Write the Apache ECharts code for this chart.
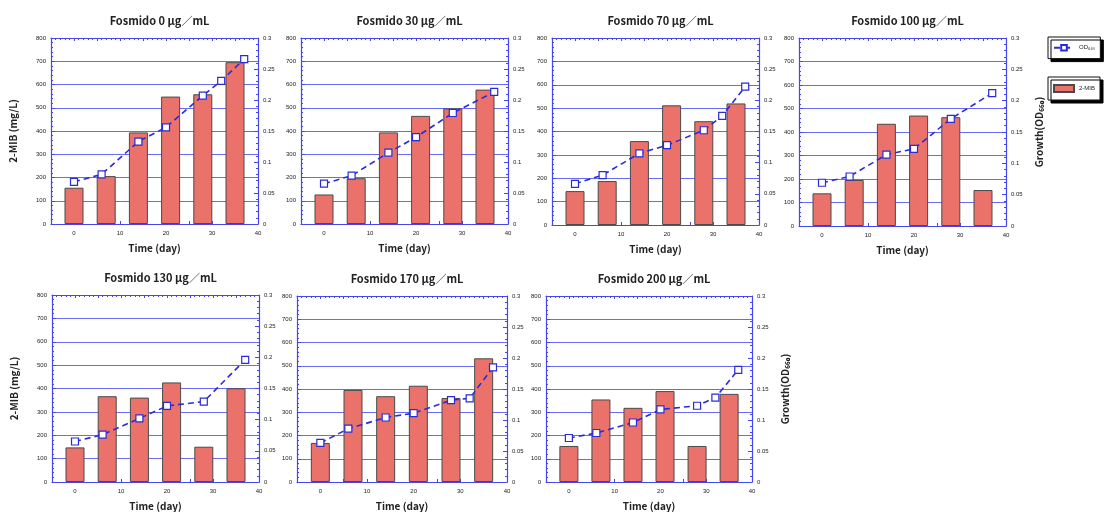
<!DOCTYPE html>
<html>
<head>
<meta charset="utf-8">
<script src="https://cdn.jsdelivr.net/npm/echarts@6/dist/echarts.min.js"></script>
<style>
  html, body { margin: 0; padding: 0; background: #fff; }
  #chart { width: 1110px; height: 512px; }
</style>
</head>
<body>
<div id="chart"></div>
<script>
// Panel titles (fosmidomycin concentration)
const titles = [
  'Fosmido 0 μg／mL', 'Fosmido 30 μg／mL', 'Fosmido 70 μg／mL', 'Fosmido 100 μg／mL',
  'Fosmido 130 μg／mL', 'Fosmido 170 μg／mL', 'Fosmido 200 μg／mL'
];

// Sampling days of the 2-MIB measurements
const barDays = [0, 7, 14, 21, 28, 35];

// 2-MIB (mg/L) per concentration
const mib0   = [156, 206, 394, 548, 558, 696];
const mib30  = [127, 197, 394, 465, 497, 578];
const mib70  = [145, 188, 359, 512, 444, 520];
const mib100 = [139, 196, 435, 470, 463, 153];
const mib130 = [148, 367, 361, 426, 151, 401];
const mib170 = [168, 396, 369, 414, 361, 532];
const mib200 = [155, 355, 319, 391, 155, 379];

// Growth (OD660) sampling days and values per concentration
const odDays0   = [0, 6, 14, 20, 28, 32, 37];
const od0       = [0.068, 0.080, 0.133, 0.156, 0.207, 0.231, 0.266];
const odDays30  = [0, 6, 14, 20, 28, 37];
const od30      = [0.065, 0.078, 0.115, 0.140, 0.179, 0.213];
const odDays70  = [0, 6, 14, 20, 28, 32, 37];
const od70      = [0.066, 0.080, 0.115, 0.128, 0.152, 0.175, 0.222];
const odDays100 = [0, 6, 14, 20, 28, 37];
const od100     = [0.069, 0.079, 0.114, 0.123, 0.171, 0.212];
const odDays130 = [0, 6, 14, 20, 28, 37];
const od130     = [0.065, 0.076, 0.102, 0.122, 0.129, 0.196];
const odDays170 = [0, 6, 14, 20, 28, 32, 37];
const od170     = [0.063, 0.086, 0.104, 0.111, 0.132, 0.135, 0.185];
const odDays200 = [0, 6, 14, 20, 28, 32, 37];
const od200     = [0.071, 0.079, 0.096, 0.117, 0.123, 0.136, 0.181];

// Axis tick labels
const xTickLabels = [0, 10, 20, 30, 40];

const panels = [
  { mib: mib0,   days: odDays0,   od: od0 },
  { mib: mib30,  days: odDays30,  od: od30 },
  { mib: mib70,  days: odDays70,  od: od70 },
  { mib: mib100, days: odDays100, od: od100 },
  { mib: mib130, days: odDays130, od: od130 },
  { mib: mib170, days: odDays170, od: od170 },
  { mib: mib200, days: odDays200, od: od200 }
];

// Plot rectangles of the seven panels
const layout = [
  { left: 51,  top: 38,  width: 207, height: 186 },
  { left: 301, top: 38,  width: 207, height: 186 },
  { left: 552, top: 38,  width: 207, height: 187 },
  { left: 799, top: 38,  width: 207, height: 188 },
  { left: 52,  top: 295, width: 207, height: 187 },
  { left: 297, top: 296, width: 210, height: 187 },
  { left: 546, top: 296, width: 206, height: 187 }
];

const FRAME = '#4646ee';
const GRIDLINE = '#6a6af4';
const LINE = '#2b2bd6';
const BAR = '#ea726b';
const NUM_FONT = 'Liberation Sans';
const TXT_FONT = '"Noto Sans CJK JP", "Noto Sans", sans-serif';

const grids = [], xAxes = [], yAxes = [], series = [], titleOpts = [];

panels.forEach((p, i) => {
  const g = layout[i];
  grids.push({ left: g.left, top: g.top, width: g.width, height: g.height, containLabel: false });

  titleOpts.push({
    text: titles[i],
    left: g.left + g.width / 2,
    top: g.top - 28,
    textAlign: 'center',
    textStyle: { fontFamily: TXT_FONT, fontSize: 11, fontWeight: 'bold', color: '#222' }
  });

  // bottom axis with day labels
  xAxes.push({
    type: 'value', gridIndex: i, position: 'bottom', min: -5, max: 40, interval: 5,
    name: 'Time (day)', nameLocation: 'middle', nameGap: 19,
    nameTextStyle: { fontFamily: TXT_FONT, fontSize: 10, fontWeight: 'bold', color: '#222' },
    axisLine: { show: true, onZero: false, lineStyle: { color: FRAME, width: 1.2 } },
    axisTick: { show: true, inside: true, length: 3, lineStyle: { color: FRAME } },
    axisLabel: {
      fontFamily: NUM_FONT, fontSize: 6, color: '#222', margin: 6,
      formatter: v => (xTickLabels.indexOf(v) >= 0 ? String(v) : '')
    },
    splitLine: { show: false }
  });
  // top frame edge
  xAxes.push({
    type: 'value', gridIndex: i, position: 'top', min: -5, max: 40, interval: 5,
    axisLine: { show: true, onZero: false, lineStyle: { color: FRAME, width: 1.2 } },
    axisTick: { show: true, inside: true, length: 3, lineStyle: { color: FRAME } },
    minorTick: { show: true, splitNumber: 5, length: 2, lineStyle: { color: FRAME } },
    axisLabel: { show: false },
    splitLine: { show: false }
  });

  const showLeftName = (i === 0 || i === 4);
  const showRightName = (i === 3 || i === 6);

  yAxes.push({
    type: 'value', gridIndex: i, position: 'left', min: 0, max: 800, interval: 100,
    name: showLeftName ? '2-MIB (mg/L)' : '', nameLocation: 'middle', nameGap: 33, nameRotate: 90,
    nameTextStyle: { fontFamily: TXT_FONT, fontSize: 10, fontWeight: 'bold', color: '#222' },
    axisLine: { show: true, onZero: false, lineStyle: { color: FRAME, width: 1.2 } },
    axisTick: { show: true, inside: true, length: 4, lineStyle: { color: FRAME } },
    minorTick: { show: true, splitNumber: 5, length: 2, lineStyle: { color: FRAME } },
    axisLabel: { fontFamily: NUM_FONT, fontSize: 6, color: '#222', margin: 5 },
    splitLine: { show: true, lineStyle: { color: GRIDLINE, width: 1 } }
  });
  yAxes.push({
    type: 'value', gridIndex: i, position: 'right', min: 0, max: 0.3, interval: 0.05,
    name: showRightName ? 'Growth(OD₆₆₀)' : '', nameLocation: 'middle', nameGap: 28, nameRotate: 90,
    nameTextStyle: { fontFamily: TXT_FONT, fontSize: 10, fontWeight: 'bold', color: '#222' },
    axisLine: { show: true, onZero: false, lineStyle: { color: FRAME, width: 1.2 } },
    axisTick: { show: true, inside: true, length: 4, lineStyle: { color: FRAME } },
    minorTick: { show: true, splitNumber: 5, length: 2, lineStyle: { color: FRAME } },
    axisLabel: { fontFamily: NUM_FONT, fontSize: 6, color: '#222', margin: 5 },
    splitLine: { show: false }
  });

  series.push({
    type: 'bar', name: '2-MIB', xAxisIndex: 2 * i, yAxisIndex: 2 * i,
    data: barDays.map((d, k) => [d, p.mib[k]]),
    barWidth: 19,
    itemStyle: { color: BAR, borderColor: '#4a4a4a', borderWidth: 1 },
    z: 2
  });
  series.push({
    type: 'line', name: 'OD₆₆₀', xAxisIndex: 2 * i, yAxisIndex: 2 * i + 1,
    data: p.days.map((d, k) => [d, p.od[k]]),
    symbol: 'rect', symbolSize: 7,
    lineStyle: { type: [6, 4], width: 1.6, color: LINE },
    itemStyle: { color: '#fff', borderColor: LINE, borderWidth: 1.2 },
    z: 3
  });
});

const legendBase = {
  orient: 'vertical', left: 1048, width: 52,
  padding: [7, 5, 7, 5], itemWidth: 20, itemHeight: 7, itemGap: 4,
  backgroundColor: '#fff', borderColor: '#111', borderWidth: 1,
  shadowColor: '#000', shadowBlur: 0, shadowOffsetX: 3, shadowOffsetY: 3,
  textStyle: { fontFamily: NUM_FONT, fontSize: 6, color: '#222' }
};

const chart = echarts.init(document.getElementById('chart'), null, { renderer: 'canvas' });
chart.setOption({
  backgroundColor: '#fff',
  animation: false,
  title: titleOpts,
  legend: [
    Object.assign({}, legendBase, { top: 37, data: ['OD₆₆₀'] }),
    Object.assign({}, legendBase, { top: 77, data: [{ name: '2-MIB', icon: 'rect' }] })
  ],
  grid: grids,
  xAxis: xAxes,
  yAxis: yAxes,
  series: series
});
</script>
</body>
</html>
